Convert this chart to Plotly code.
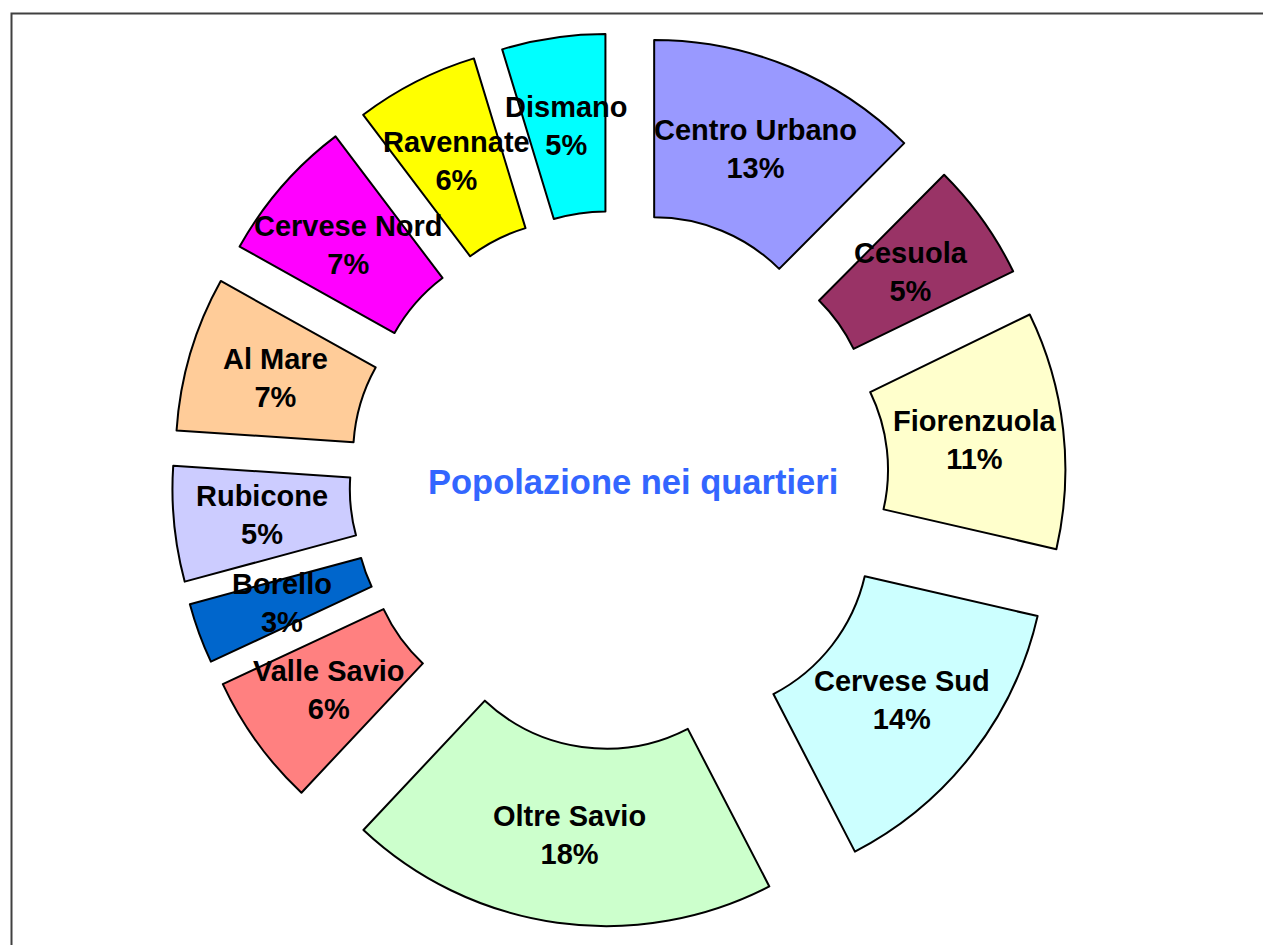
import math
import plotly.graph_objects as go

# ---- data ----
districts = ["Centro Urbano", "Cesuola", "Fiorenzuola", "Cervese Sud", "Oltre Savio",
             "Valle Savio", "Borello", "Rubicone", "Al Mare", "Cervese Nord",
             "Ravennate", "Dismano"]
# slice sizes as drawn (share of the ring, %)
shares = [12.45, 5.35, 10.8, 13.8, 19.6, 6.05, 2.75, 5.25, 7.05, 6.6, 5.6, 4.7]
# percentage labels printed on the slices
pct_labels = ["13%", "5%", "11%", "14%", "18%", "6%", "3%", "5%", "7%", "7%", "6%", "5%"]
colors = ["#9999FF", "#993366", "#FFFFCC", "#CCFFFF", "#CCFFCC", "#FF8080",
          "#0066CC", "#CCCCFF", "#FFCC99", "#FF00FF", "#FFFF00", "#00FFFF"]
title_text = "Popolazione nei quartieri"

# ---- layout constants ----
W, H = 1271, 945
OFF = 8                         # page body margin in the browser
PULL = 0.26
HOLE = 0.5
cx, cy = 619.0 - OFF, 480.0 - OFF   # pie centre in figure pixels
box = 894.0                          # side of the pie domain in pixels
FONT = "Arial, Liberation Sans, sans-serif"

dom_x = [(cx - box / 2) / W, (cx + box / 2) / W]
dom_y = [1 - (cy + box / 2) / H, 1 - (cy - box / 2) / H]

fig = go.Figure(go.Pie(
    labels=districts,
    values=shares,
    sort=False,
    direction="clockwise",
    rotation=0,
    hole=HOLE,
    pull=[PULL] * len(shares),
    marker=dict(colors=colors, line=dict(color="#000000", width=2)),
    textinfo="none",
    hoverinfo="label+percent",
    domain=dict(x=dom_x, y=dom_y),
    showlegend=False,
))

# label positions: mid-angle, mid-ring of each exploded slice
R = box / (2 * (1 + PULL))
r_lab = PULL * R + R * (1 + HOLE) / 2
total = sum(shares)
annotations = []
cum = 0.0
for name, v, pct in zip(districts, shares, pct_labels):
    theta = math.radians(360.0 * (cum + v / 2) / total)
    cum += v
    px = cx + r_lab * math.sin(theta)
    py = cy - r_lab * math.cos(theta)
    annotations.append(dict(
        x=px / W, y=1 - py / H, xref="paper", yref="paper",
        text=f"<b>{name}<br>{pct}</b>", showarrow=False,
        font=dict(family=FONT, size=29, color="#000000"),
        xanchor="center", yanchor="middle", align="center",
    ))

annotations.append(dict(
    x=(633 - OFF) / W, y=1 - (482 - OFF) / H, xref="paper", yref="paper",
    text=f"<b>{title_text}</b>", showarrow=False,
    font=dict(family=FONT, size=34.5, color="#3366FF"),
    xanchor="center", yanchor="middle",
))

fig.update_layout(
    width=W, height=H, autosize=False,
    margin=dict(l=0, r=0, t=0, b=0),
    paper_bgcolor="white", plot_bgcolor="white",
    annotations=annotations,
    shapes=[dict(type="rect", xref="paper", yref="paper",
                 x0=(11.5 - OFF) / W, x1=1.02, y0=-0.02, y1=1 - (13.5 - OFF) / H,
                 line=dict(color="#404040", width=2), fillcolor="rgba(0,0,0,0)")],
)

fig.write_html("out.html")
